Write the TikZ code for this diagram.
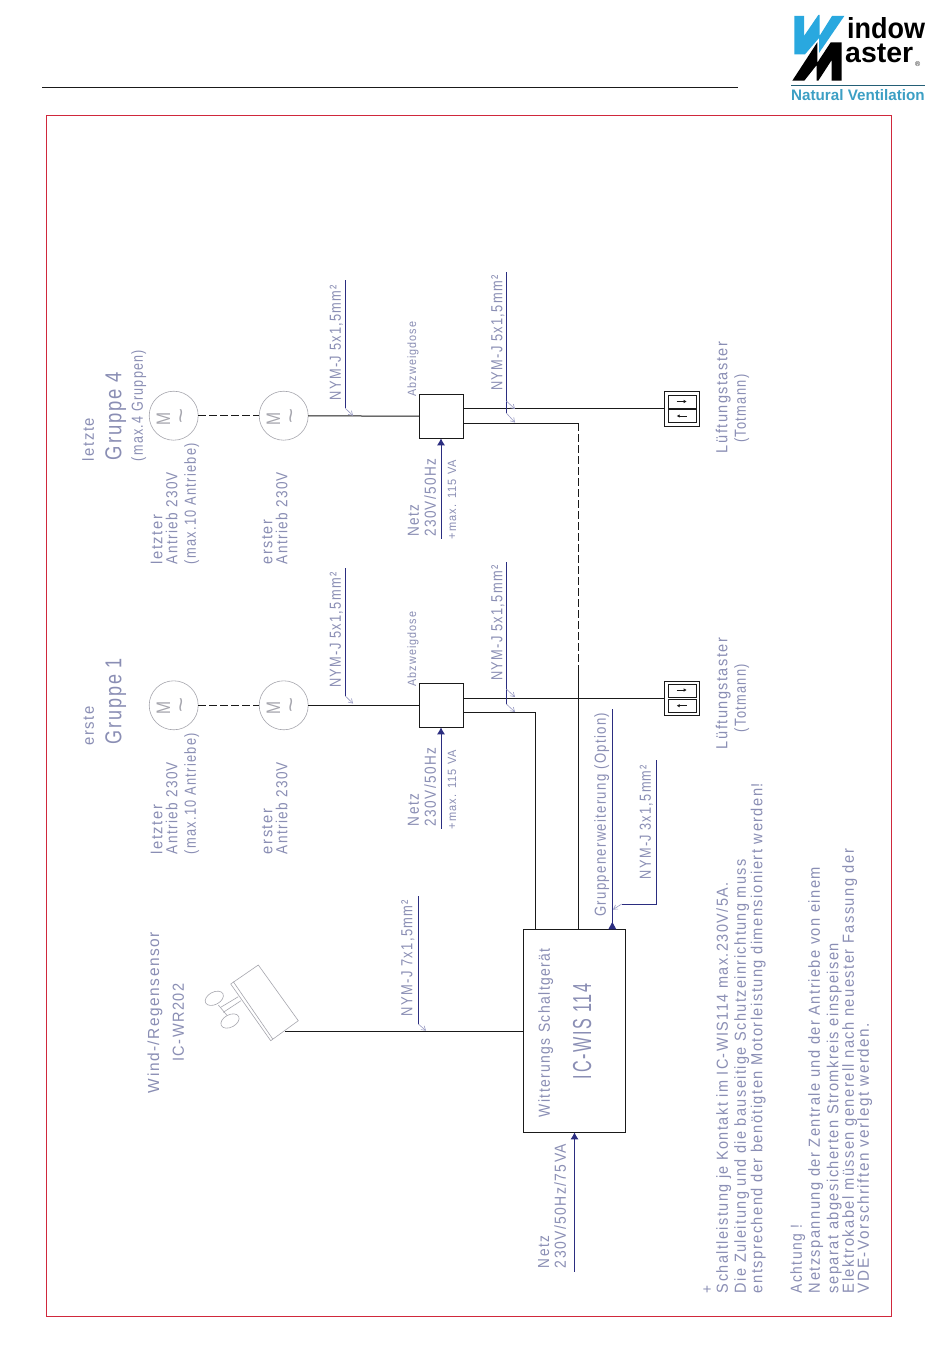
\documentclass[tikz,border=0pt]{standalone}
\usepackage{fontspec}
\usepackage{graphicx}
\usetikzlibrary{arrows.meta}
\setmainfont{Liberation Sans}
\newfontfamily\cad[LetterSpace=10]{Liberation Sans}
\definecolor{txtc}{HTML}{8A8EB4}
\definecolor{navy}{HTML}{2B2D80}
\definecolor{wire}{HTML}{1A1A1A}
\definecolor{sym}{HTML}{A6A6AE}
\definecolor{tick}{HTML}{9A9CC4}
\definecolor{frame}{HTML}{D0283C}
\definecolor{wmblue}{HTML}{29A8DF}
\definecolor{wmteal}{HTML}{3C9FC4}
\tikzset{
  lbl/.style={rotate=90,anchor=base west,inner sep=0pt,outer sep=0pt,text=txtc},
  blackwire/.style={draw=wire,line width=1pt},
  dashwire/.style={draw=wire,line width=1pt,dash pattern=on 8pt off 3pt},
  leader/.style={draw=navy,line width=0.9pt},
  tickline/.style={draw=tick,line width=0.6pt,-{Straight Barb[length=4pt,width=5pt]}},
  feed/.style={draw=navy,line width=1pt,-{Latex[length=7pt,width=8pt]}},
  motor/.style={circle,draw=sym,line width=0.6pt,minimum size=49pt,inner sep=0pt,outer sep=0pt},
  jbox/.style={rectangle,draw=wire,line width=1pt,minimum width=44pt,minimum height=44pt,inner sep=0pt,outer sep=0pt},
  swout/.style={rectangle,draw=wire,line width=1pt,minimum width=35pt,inner sep=0pt,outer sep=0pt},
  swin/.style={rectangle,draw=wire,line width=1pt,minimum width=28.4pt,minimum height=13.4pt,inner sep=0pt,outer sep=0pt},
  swarrow/.style={draw=wire,line width=0.8pt,-{Latex[length=3pt,width=3.5pt]}},
  symline/.style={draw=sym,line width=0.6pt},
}
% name, x centre of the column, lower end, length, font size, text
\newcommand{\lab}[6]{\node[lbl] (#1) at ({#2+0.36*#5},#3) {\resizebox{#4pt}{\height}{\cad\fontsize{#5pt}{#5pt}\selectfont #6}};}
\begin{document}
\begin{tikzpicture}[x=1pt,y=-1pt]
\useasboundingbox (0,0) rectangle (950,1370);
\fill[white] (0,0) rectangle (950,1370);

% header
\coordinate (hl) at (42,88);
\coordinate (hr) at (738,88);
\draw[line width=1pt,draw=wire] (hl) -- (hr);
\draw[frame,line width=1pt] (46,116) rectangle (891,1316);

% logo
\fill[wmblue] (794.3,16) -- (804,16) -- (804,36) -- (818.3,15) -- (819.5,15) -- (819.5,36) -- (832,16) -- (844.3,16) -- (819,53) -- (819,38) -- (805,54.3) -- (794.3,54.3) -- cycle;
\fill[black] (792.3,80.7) -- (817.3,42.3) -- (817.3,62.7) -- (830.7,42.3) -- (841.7,42.3) -- (841.7,80.7) -- (831.7,80.7) -- (831.7,60) -- (818.3,80.7) -- (816.7,80.7) -- (816.7,65) -- (804.3,80.7) -- cycle;
\node[anchor=base west,inner sep=0pt] (wm1) at (847,39) {\resizebox{78pt}{21pt}{\bfseries indow}};
\node[anchor=base west,inner sep=0pt] (wm2) at (845,63) {\resizebox{68pt}{18.5pt}{\bfseries aster}};
\node[anchor=base west,inner sep=0pt,font=\fontsize{7pt}{7pt}\selectfont,text=wire] (wm3) at (915,67) {®};
\draw[draw=wmteal!60!black,line width=0.8pt] (791,85) -- (925,85);
\node[anchor=base west,inner sep=0pt,text=wmteal,font=\fontsize{15.2pt}{15.2pt}\selectfont\bfseries] (wm4) at (791,100.5) {Natural Ventilation};

% ---- group 4
\node[motor] (m4b) at (173.7,415.7) {};
\node[motor] (m4a) at (283.7,415.7) {};
\node[jbox] (jb4) at (441,416.3) {};
\node[swout,minimum height=35pt] (sw4) at (681.8,408.8) {};
\node[swin] (sw4t) at (682.5,402) {};
\node[swin] (sw4b) at (682.5,415.8) {};
\draw[dashwire] (m4b) -- (m4a);
\draw[blackwire] (m4a) -- (jb4);
\draw[blackwire] (jb4.east |- sw4.west) -- (sw4.west);
\coordinate (c4) at (578.3,423.3);
\coordinate (c5) at (578.3,668);
\draw[blackwire] (c4 -| jb4.east) -- (c4);
\draw[dashwire] (c4) -- (c5);
\coordinate (a4t) at (676.7,401.5);
\coordinate (a4b) at (686.7,416);
\draw[swarrow] (a4t) -- ++(10,0);
\draw[swarrow] (a4b) -- ++(-10,0);

% ---- group 1
\node[motor] (m1b) at (173.7,705.3) {};
\node[motor] (m1a) at (283.7,705.3) {};
\node[jbox] (jb1) at (441,705.3) {};
\node[swout,minimum height=34pt] (sw1) at (681.8,698.3) {};
\node[swin] (sw1t) at (682.5,691) {};
\node[swin] (sw1b) at (682.5,706) {};
\draw[dashwire] (m1b) -- (m1a);
\draw[blackwire] (m1a) -- (jb1);
\draw[blackwire] (jb1.east |- sw1.west) -- (sw1.west);
\coordinate (a1t) at (676.7,690);
\coordinate (a1b) at (686.7,705.7);
\draw[swarrow] (a1t) -- ++(10,0);
\draw[swarrow] (a1b) -- ++(-10,0);

% ---- device
\node[jbox,minimum width=102.4pt,minimum height=203pt] (dev) at (574.5,1030.8) {};
\draw[blackwire] (c5) -- (c5 |- dev.north);
\coordinate (c1) at (535.3,712.3);
\draw[blackwire] (c1 -| jb1.east) -- (c1) -- (c1 |- dev.north);

% ---- sensor
\coordinate (s1) at (258.3,965);
\coordinate (s2) at (298.3,1020.7);
\coordinate (s3) at (270.7,1040.7);
\coordinate (s4) at (230.7,984);
\coordinate (s5) at (233.3,981.7);
\coordinate (s6) at (272.7,1039);
\draw[symline] (s1) -- (s2) -- (s3) -- (s4) -- cycle;
\draw[symline] (s5) -- (s6);
\draw[symline] (238.3,996.7) -- (220.7,1007.3);
\draw[symline] (241,1000.7) -- (223.3,1012.3);
\draw[symline] (218.3,1005) -- (227.3,1015.7);
\draw[symline,fill=white,rotate around={28:(214.3,998.3)}] (214.3,998.3) ellipse (9.8 and 6.2);
\draw[symline,fill=white,rotate around={28:(230,1021)}] (230,1021) ellipse (9.8 and 6.2);
\coordinate (sout) at (285,1031);
\draw[blackwire] (sout) -- (sout -| dev.west);

% ---- leaders
\coordinate (l4a) at (345.3,280);
\coordinate (l4b) at (345.3,408.3);
\coordinate (l4c) at (353,415.7);
\draw[leader] (l4a) -- (l4b);
\draw[tickline] (l4b) -- (l4c);
\coordinate (l1a) at (345.3,568);
\coordinate (l1b) at (345.3,696);
\coordinate (l1c) at (353,703.5);
\draw[leader] (l1a) -- (l1b);
\draw[tickline] (l1b) -- (l1c);
\coordinate (r4a) at (506.3,272);
\coordinate (r4b) at (506.3,413);
\coordinate (r4m) at (506.3,401);
\draw[leader] (r4a) -- (r4b);
\draw[tickline] (r4m) -- (515,409);
\draw[tickline] (r4b) -- (515,422.5);
\coordinate (r1a) at (506.3,562);
\coordinate (r1b) at (506.3,704);
\coordinate (r1m) at (506.3,689);
\draw[leader] (r1a) -- (r1b);
\draw[tickline] (r1m) -- (515,697);
\draw[tickline] (r1b) -- (515,712);
\coordinate (s7a) at (418.3,896);
\coordinate (s7b) at (418.3,1024);
\draw[leader] (s7a) -- (s7b);
\draw[tickline] (s7b) -- (426,1030.7);

% ---- feeds
\coordinate (n4) at (441,538.7);
\draw[feed] (n4) -- (jb4.south);
\coordinate (n1) at (441,828.7);
\draw[feed] (n1) -- (jb1.south);
\coordinate (nd) at (574.5,1271.7);
\draw[feed] (nd) -- (dev.south);
\coordinate (g1) at (612.3,709);
\draw[leader] (g1) -- (g1 |- dev.north);
\fill[navy] (608.3,929.3) -- (616.3,929.3) -- (612.3,922) -- cycle;
\coordinate (g2) at (656.3,760);
\coordinate (g3) at (656.3,904);
\coordinate (g4) at (621.7,904);
\draw[leader] (g2) -- (g3) -- (g4);
\draw[tickline] (g4) -- (613,909.5);

% ---- motor symbols
\foreach \mx/\my/\mn in {173.7/415.7/a,283.7/415.7/b,173.7/705.3/c,283.7/705.3/d}{
  \node[lbl,text=sym] (M\mn) at (\mx-3.7,\my+9.5) {\resizebox{13pt}{\height}{\fontsize{19.5pt}{19.5pt}\selectfont M}};
  \node[rotate=90,inner sep=0pt,text=sym] (T\mn) at (\mx+10,\my) {\resizebox{15pt}{\height}{\fontsize{22pt}{22pt}\selectfont\textasciitilde}};
}

% ---- texts group 4
\lab{t1}{88}{461}{43}{16}{letzte}
\lab{t2}{113}{460}{88}{23}{Gruppe 4}
\lab{t3}{137}{461}{111}{16}{(max.4 Gruppen)}
\lab{t4}{156.7}{564}{49}{16}{letzter}
\lab{t5}{171.7}{564}{92}{16}{Antrieb 230V}
\lab{t6}{190}{564}{121}{16}{(max.10 Antriebe)}
\lab{t7}{266.7}{564}{44}{16}{erster}
\lab{t8}{281.7}{564}{92}{16}{Antrieb 230V}
\lab{t9}{335}{400}{115}{16}{NYM-J 5x1,5mm²}
\lab{t10}{411.7}{396.7}{75}{12}{Abzweigdose}
\lab{t11}{413}{536.7}{32}{16}{Netz}
\lab{t12}{430}{536.7}{78}{16}{230V/50Hz}
\lab{t13}{451.7}{539}{79}{12}{+max. 115 VA}
\lab{t14}{496.7}{390.7}{115}{16}{NYM-J 5x1,5mm²}
\lab{t15}{721.7}{453}{111}{16}{Lüftungstaster}
\lab{t16}{740}{442.7}{68}{16}{(Totmann)}

% ---- texts group 1
\lab{u1}{88}{745.7}{39}{16}{erste}
\lab{u2}{113}{744}{86}{23}{Gruppe 1}
\lab{u4}{156.7}{854}{49}{16}{letzter}
\lab{u5}{171.7}{854}{92}{16}{Antrieb 230V}
\lab{u6}{190}{854}{121}{16}{(max.10 Antriebe)}
\lab{u7}{266.7}{854}{45}{16}{erster}
\lab{u8}{281.7}{854}{92}{16}{Antrieb 230V}
\lab{u9}{335}{687.7}{115}{16}{NYM-J 5x1,5mm²}
\lab{u10}{411.7}{686.7}{75}{12}{Abzweigdose}
\lab{u11}{413}{826}{32}{16}{Netz}
\lab{u12}{430}{826}{78}{16}{230V/50Hz}
\lab{u13}{451.7}{829}{79}{12}{+max. 115 VA}
\lab{u14}{496.7}{680.7}{115}{16}{NYM-J 5x1,5mm²}
\lab{u15}{721.7}{749}{111}{16}{Lüftungstaster}
\lab{u16}{740}{732}{68}{16}{(Totmann)}
\lab{u17}{600}{916.7}{204}{16}{Gruppenerweiterung (Option)}
\lab{u18}{645}{879}{114}{16}{NYM-J 3x1,5mm²}

% ---- texts sensor and device
\lab{v1}{153.3}{1093}{161}{16}{Wind-/Regensensor}
\lab{v2}{178}{1061.7}{78}{16}{IC-WR202}
\lab{v3}{406.7}{1016}{116}{16}{NYM-J 7x1,5mm²}
\lab{v4}{544}{1117.3}{169}{16}{Witterungs Schaltgerät}
\lab{v5}{581.7}{1079}{95}{26}{IC-WIS 114}
\lab{v6}{543.3}{1268}{32}{16}{Netz}
\lab{v7}{560}{1268}{124}{16}{230V/50Hz/75VA}

% ---- notes
\lab{w0}{706.7}{1293}{8}{15}{+}
\lab{w1}{722}{1293}{411}{16}{Schaltleistung je Kontakt im IC-WIS114 max.230V/5A.}
\lab{w2}{740}{1293}{434}{16}{Die Zuleitung und die bauseitige Schutzeinrichtung muss}
\lab{w3}{756.7}{1293}{510}{16}{entsprechend der benötigten Motorleistung dimensioniert werden!}
\lab{w4}{796}{1293}{68}{16}{Achtung !}
\lab{w5}{814}{1293}{426}{16}{Netzspannung der Zentrale und der Antriebe von einem}
\lab{w6}{832.7}{1293}{350}{16}{separat abgesicherten Stromkreis einspeisen}
\lab{w7}{848}{1293}{444}{16}{Elektrokabel müssen generell nach neuester Fassung der}
\lab{w8}{863}{1293}{270}{16}{VDE-Vorschriften verlegt werden.}
\end{tikzpicture}
\end{document}
